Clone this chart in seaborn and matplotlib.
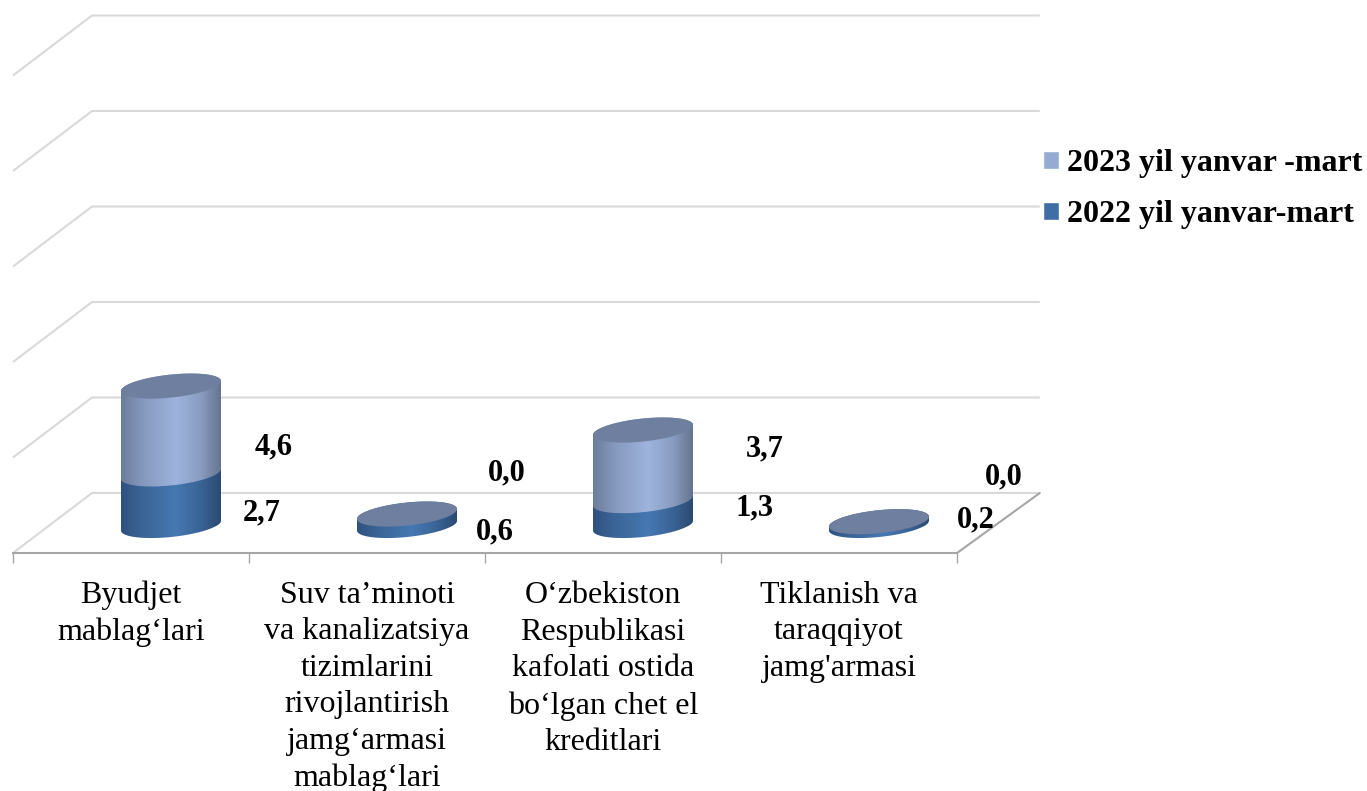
# water_supply_funding_chart.py

import numpy as np
import matplotlib
matplotlib.use("Agg")
import matplotlib.pyplot as plt
import seaborn as sns

from matplotlib.colors import LinearSegmentedColormap
from matplotlib.patches import Patch, Polygon

categories = [
    "Byudjet\nmablag‘lari",
    "Suv ta’minoti\nva kanalizatsiya\ntizimlarini\nrivojlantirish\njamg‘armasi\nmablag‘lari",
    "O‘zbekiston\nRespublikasi\nkafolati ostida\nbo‘lgan chet el\nkreditlari",
    "Tiklanish va\ntaraqqiyot\njamg'armasi",
]
values_2022 = [2.7, 0.6, 1.3, 0.2]
values_2023 = [4.6, 0.0, 3.7, 0.0]
series_names = ["2023 yil yanvar -mart", "2022 yil yanvar-mart"]
grid_levels = [0, 5, 10, 15, 20, 25]

# figure layout in pixels
WIDTH, HEIGHT = 1367, 791
FLOOR_LEFT, CAT_PX, FLOOR_PY, UNIT_PX = 13, 236, 553, 19.1
DEPTH_X, DEPTH_Y = 79 / CAT_PX, 60 / UNIT_PX
BAR_DX, BAR_DY = 40 / CAT_PX, 27.5 / UNIT_PX
BAR_WIDTH = 100 / CAT_PX
ELL_B, ELL_SHEAR = 11.5 / UNIT_PX, 5 / UNIT_PX

LIGHT, DARK, TOP = "#95ABD2", "#3F6EA5", "#6F7F9F"
GRID, AXIS = "#D9D9D9", "#A6A6A6"

light_cmap = LinearSegmentedColormap.from_list(
    "light", [(0, "#6C7D9C"), (0.2, "#8497BC"), (0.55, "#9EB4DD"), (0.8, "#8A9DC2"), (1, "#66758F")])
dark_cmap = LinearSegmentedColormap.from_list(
    "dark", [(0, "#2E5280"), (0.2, "#3A6495"), (0.55, "#4678B2"), (0.8, "#3A6496"), (1, "#2B4A72")])

# where the value labels sit, in pixels from the top left
labels_2023_px = [(274, 447), (507, 473), (765, 449), (1004, 477)]
labels_2022_px = [(262, 513), (495, 532), (754, 508), (976, 520)]


def draw_walls(ax):
    """Draws the perspective gridlines and the floor of the chart."""
    left, right = -0.5, len(categories) - 0.5
    for level in grid_levels:
        ax.plot([left, left + DEPTH_X, right + DEPTH_X + 0.016],
                [level, level + DEPTH_Y, level + DEPTH_Y],
                color=GRID, lw=1.5, zorder=1, solid_capstyle="butt")
    ax.plot([right, right + DEPTH_X + 0.016], [0, DEPTH_Y], color=AXIS, lw=1.5, zorder=1)


def ellipse_points(cx, y, t):
    half = BAR_WIDTH / 2
    return np.column_stack([cx + half * np.cos(t), y + ELL_SHEAR * np.cos(t) + ELL_B * np.sin(t)])


def shade_bars(ax, container, cmap):
    """Turns flat seaborn bars into shaded cylinder bodies."""
    for bar in container:
        bar.set_x(bar.get_x() + BAR_DX)
        bar.set_y(bar.get_y() + BAR_DY)
        if bar.get_height() == 0:
            bar.set_visible(False)
            continue
        x0, x1 = bar.get_x(), bar.get_x() + bar.get_width()
        y0, y1 = bar.get_y(), bar.get_y() + bar.get_height()
        cx = (x0 + x1) / 2
        outline = np.vstack([
            ellipse_points(cx, y0, np.linspace(np.pi, 2 * np.pi, 60)),
            ellipse_points(cx, y1, np.linspace(0, np.pi, 60)),
        ])
        clip = Polygon(outline, closed=True, transform=ax.transData)
        bar.set_clip_path(clip)
        gradient = np.linspace(0, 1, 128).reshape(1, -1)
        image = ax.imshow(gradient, cmap=cmap, aspect="auto", zorder=3, interpolation="bilinear",
                          extent=[x0, x1, y0 - 2 * ELL_B, y1 + 2 * ELL_B])
        image.set_clip_path(clip)


def draw_tops(ax, container_top):
    """Puts the flat lid on every stacked column."""
    for bar in container_top:
        cx = bar.get_x() + bar.get_width() / 2
        y1 = bar.get_y() + bar.get_height()
        pts = ellipse_points(cx, y1, np.linspace(0, 2 * np.pi, 120))
        ax.add_patch(Polygon(pts, closed=True, facecolor=TOP, edgecolor="none", zorder=4))


def format_axis(ax):
    major = np.arange(len(categories) + 1) - 0.5
    ax.set_xticks(major, labels=[""] * len(major))
    ax.set_xticks(np.arange(len(categories)), labels=categories, minor=True)
    ax.tick_params(axis="x", which="major", bottom=True, length=7.2, width=1, color=AXIS)
    ax.tick_params(axis="x", which="minor", length=0, pad=20, labelsize=23, labelcolor="black")
    ax.yaxis.set_visible(False)
    ax.set_xlabel("")
    for side in ["top", "left", "right"]:
        ax.spines[side].set_visible(False)
    ax.spines["bottom"].set_position(("data", 0))
    ax.spines["bottom"].set_bounds(-0.5, len(categories) - 0.5)
    ax.spines["bottom"].set_color(AXIS)
    ax.spines["bottom"].set_linewidth(1.5)

    ax.set_xlim(-0.5 - FLOOR_LEFT / CAT_PX, -0.5 + (WIDTH - FLOOR_LEFT) / CAT_PX)
    ax.set_ylim((FLOOR_PY - HEIGHT) / UNIT_PX, FLOOR_PY / UNIT_PX)

    # set_position rebuilds the ticks, so the spacing has to come after it
    for label in ax.get_xticklabels(minor=True):
        label.set_linespacing(1.34)


def add_labels(ax):
    for values, positions in [(values_2023, labels_2023_px), (values_2022, labels_2022_px)]:
        for value, (px, py) in zip(values, positions):
            ax.annotate(f"{value:.1f}".replace(".", ","), xy=(px, HEIGHT - py), xycoords="figure pixels",
                        ha="center", va="center", fontsize=22, fontweight="bold", color="black", zorder=6)


def main():
    sns.set_theme(style="white")
    plt.rcParams["font.family"] = ["Liberation Serif", "DejaVu Serif"]
    plt.rcParams["text.color"] = "black"

    fig = plt.figure(figsize=(WIDTH / 100, HEIGHT / 100), dpi=100)
    ax = fig.add_axes([0, 0, 1, 1])
    ax.patch.set_alpha(0)

    draw_walls(ax)

    sns.barplot(x=categories, y=values_2022, color=DARK, saturation=1, width=BAR_WIDTH, ax=ax, zorder=2)
    sns.barplot(x=categories, y=values_2023, bottom=values_2022, color=LIGHT, saturation=1,
                width=BAR_WIDTH, ax=ax, zorder=2)

    shade_bars(ax, ax.containers[0], dark_cmap)
    shade_bars(ax, ax.containers[1], light_cmap)
    draw_tops(ax, ax.containers[1])

    format_axis(ax)
    add_labels(ax)

    handles = [Patch(facecolor=LIGHT, label=series_names[0]), Patch(facecolor=DARK, label=series_names[1])]
    ax.legend(handles=handles, loc="upper left", bbox_to_anchor=(1043 / WIDTH, 1 - 149 / HEIGHT),
              frameon=False, prop={"size": 23, "weight": "bold"}, handlelength=0.5, handleheight=0.5,
              handletextpad=0.25, labelspacing=0.7, borderpad=0, borderaxespad=0)

    fig.savefig("out.png", dpi=100)


if __name__ == "__main__":
    main()
